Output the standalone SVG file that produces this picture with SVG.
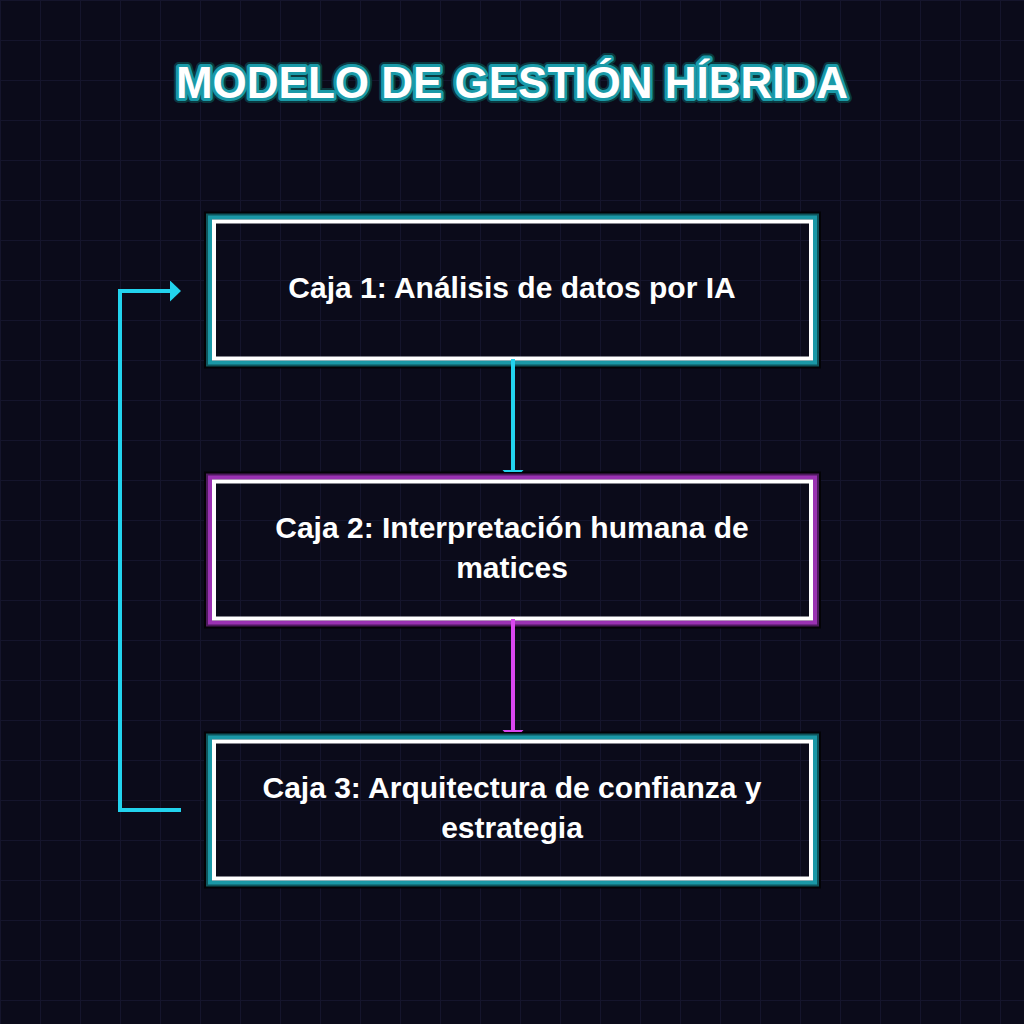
<svg xmlns="http://www.w3.org/2000/svg" width="1024" height="1024" viewBox="0 0 1024 1024">
  <defs>
    <pattern id="grid" patternUnits="userSpaceOnUse" width="40" height="40">
      <path d="M0.5 0 V40 M0 0.5 H40" fill="none" stroke="#15152c" stroke-width="1"/>
    </pattern>
    <marker id="arrowCyan" markerUnits="userSpaceOnUse" markerWidth="12" markerHeight="22" refX="0" refY="10.5" orient="auto">
      <path d="M0 0 L11 10.5 L0 21 Z" fill="#22d3ee"/>
    </marker>
    <marker id="arrowMag" markerUnits="userSpaceOnUse" markerWidth="12" markerHeight="22" refX="0" refY="10.5" orient="auto">
      <path d="M0 0 L11 10.5 L0 21 Z" fill="#d946ef"/>
    </marker>
    <clipPath id="clip1"><rect x="0" y="358" width="1024" height="114"/></clipPath>
    <clipPath id="clip2"><rect x="0" y="619" width="1024" height="113"/></clipPath>
  </defs>
  <style>
    .frame { fill: none; }
    .f-black { stroke: #030306; stroke-width: 8; }
    .t-dark { stroke: #0e555c; stroke-width: 6; }
    .t-mid { stroke: #1a98a6; stroke-width: 4; }
    .p-dark { stroke: #4e1a5e; stroke-width: 6; }
    .p-mid { stroke: #9a32b2; stroke-width: 4; }
    .f-white { stroke: #ffffff; stroke-width: 4; }
    .label { font-family: "Liberation Sans", Arial, sans-serif; font-weight: bold; font-size: 30px; fill: #ffffff; text-anchor: middle; }
    .title { font-family: "Liberation Sans", Arial, sans-serif; font-weight: bold; font-size: 44px; text-anchor: middle; }
    .conn { fill: none; stroke-width: 4; }
  </style>

  <rect x="0" y="0" width="1024" height="1024" fill="#0b0b1a"/>
  <rect x="0" y="0" width="1024" height="1024" fill="url(#grid)"/>

  <g id="title">
    <text class="title" x="512" y="98" fill="none" stroke="#0a3a40" stroke-width="10" stroke-linejoin="round">MODELO DE GESTIÓN HÍBRIDA</text>
    <text class="title" x="512" y="98" fill="none" stroke="#1a9aa8" stroke-width="6" stroke-linejoin="round">MODELO DE GESTIÓN HÍBRIDA</text>
    <text class="title" x="512" y="98" fill="#ffffff">MODELO DE GESTIÓN HÍBRIDA</text>
  </g>

  <g id="node1">
    <rect class="frame f-black" x="208" y="215.5" width="609" height="149"/>
    <rect class="frame t-dark" x="209" y="216.5" width="607" height="147"/>
    <rect class="frame t-mid" x="210" y="217.5" width="605" height="145"/>
    <rect class="frame f-white" x="214" y="221.5" width="597" height="137"/>
    <text class="label" x="512" y="298">Caja 1: Análisis de datos por IA</text>
  </g>

  <g id="node2">
    <rect class="frame f-black" x="208" y="475.5" width="609" height="149"/>
    <rect class="frame p-dark" x="209" y="476.5" width="607" height="147"/>
    <rect class="frame p-mid" x="210" y="477.5" width="605" height="145"/>
    <rect class="frame f-white" x="214" y="481.5" width="597" height="137"/>
    <text class="label" x="512" y="538">Caja 2: Interpretación humana de</text>
    <text class="label" x="512" y="578">matices</text>
  </g>

  <g id="node3">
    <rect class="frame f-black" x="208" y="735.5" width="609" height="149"/>
    <rect class="frame t-dark" x="209" y="736.5" width="607" height="147"/>
    <rect class="frame t-mid" x="210" y="737.5" width="605" height="145"/>
    <rect class="frame f-white" x="214" y="741.5" width="597" height="137"/>
    <text class="label" x="512" y="798">Caja 3: Arquitectura de confianza y</text>
    <text class="label" x="512" y="838">estrategia</text>
  </g>

  <g id="connectors">
    <path class="conn" d="M513 359 V470" stroke="#22d3ee" marker-end="url(#arrowCyan)" clip-path="url(#clip1)"/>
    <path class="conn" d="M513 619 V730" stroke="#d946ef" marker-end="url(#arrowMag)" clip-path="url(#clip2)"/>
    <path class="conn" d="M181 810 H120 V291 H170" stroke="#22d3ee" marker-end="url(#arrowCyan)"/>
  </g>
</svg>
